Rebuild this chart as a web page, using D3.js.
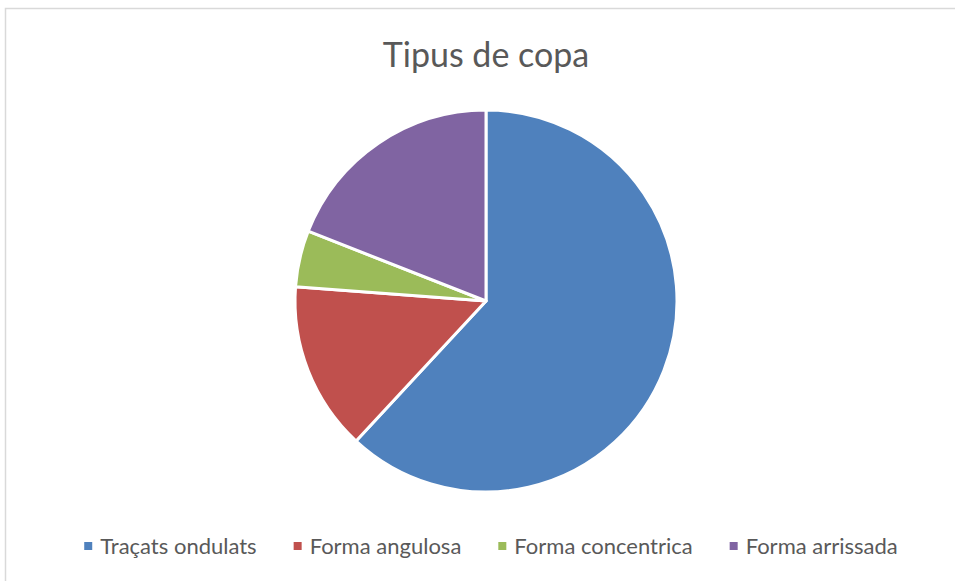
<!DOCTYPE html>
<html>
<head>
<meta charset="utf-8">
<script src="https://cdn.jsdelivr.net/npm/d3@7"></script>
<style>
  html, body { margin: 0; padding: 0; background: #fff; }
  svg { display: block; font-family: Lato, "Open Sans", sans-serif; }
</style>
</head>
<body>
<svg id="chart" width="955" height="581"></svg>
<script>
  // ----------
  var title = 'Tipus de copa';
  var categories = ['Traçats ondulats', 'Forma angulosa', 'Forma concentrica', 'Forma arrissada'];
  var values = [13, 3, 1, 4];
  var colors = ['#4f81bd', '#c0504d', '#9bbb59', '#8064a2'];

  var width = 955;
  var height = 581;
  var cx = 486;
  var cy = 301;
  var radius = 191;

  var svg = d3.select('#chart');

  // frame, only the top and left edges are inside the picture
  svg.append('rect')
    .attr('x', 5.5)
    .attr('y', 8.5)
    .attr('width', width + 10)
    .attr('height', height + 10)
    .attr('fill', '#fff')
    .attr('stroke', '#d9d9d9')
    .attr('stroke-width', 1.5);

  svg.append('text')
    .attr('x', cx)
    .attr('y', 67)
    .attr('text-anchor', 'middle')
    .attr('fill', '#595959')
    .attr('font-size', 34)
    .text(title);

  // ----------
  var data = categories.map(function(c, i) {
    return { name: c, value: values[i], color: colors[i] };
  });

  var pie = d3.pie()
    .sort(null)
    .value(function(d) { return d.value; });

  var arc = d3.arc()
    .innerRadius(0)
    .outerRadius(radius);

  svg.append('g')
    .attr('transform', 'translate(' + cx + ',' + cy + ')')
    .selectAll('path')
    .data(pie(data))
    .enter()
    .append('path')
    .attr('d', arc)
    .attr('fill', function(d) { return d.data.color; })
    .attr('stroke', '#fff')
    .attr('stroke-width', 3)
    .attr('stroke-linejoin', 'round');

  // ----------
  var legend = svg.append('g');
  var legendY = 546;
  var box = 8;
  var boxGap = 8;
  var itemGap = 37;
  var x = 0;

  data.forEach(function(d) {
    var item = legend.append('g').attr('transform', 'translate(' + x + ',0)');
    item.append('rect')
      .attr('x', 0)
      .attr('y', legendY - box / 2)
      .attr('width', box)
      .attr('height', box)
      .attr('fill', d.color);
    var t = item.append('text')
      .attr('x', box + boxGap)
      .attr('y', legendY)
      .attr('dy', '0.35em')
      .attr('fill', '#595959')
      .attr('font-size', 22)
      .text(d.name);
    x += box + boxGap + t.node().getComputedTextLength() + itemGap;
  });

  var legendWidth = x - itemGap;
  legend.attr('transform', 'translate(' + (491 - legendWidth / 2) + ',0)');
</script>
</body>
</html>
